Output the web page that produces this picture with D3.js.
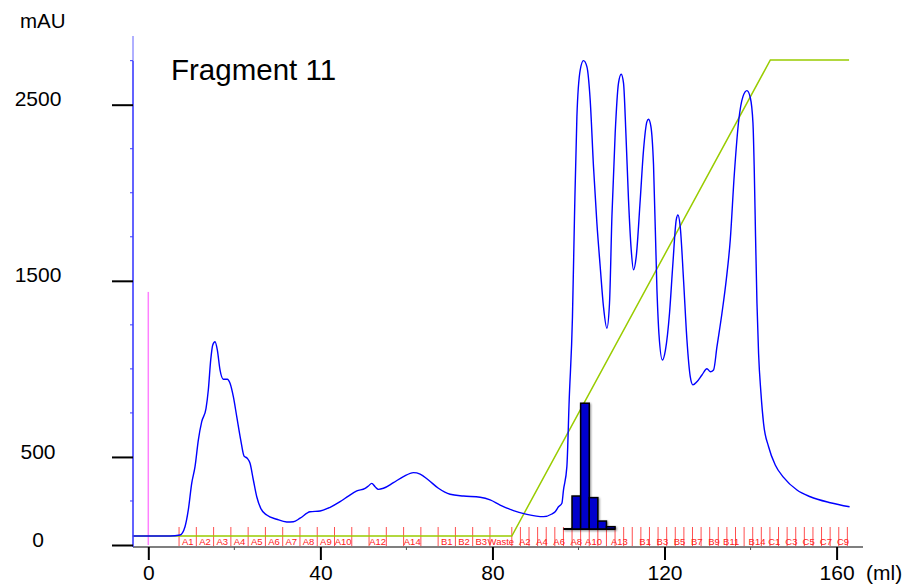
<!DOCTYPE html>
<html>
<head>
<meta charset="utf-8">
<script src="https://cdn.jsdelivr.net/npm/d3@7"></script>
<style>
  html, body { margin: 0; padding: 0; background: #fff; }
  svg { display: block; font-family: "Liberation Sans", Arial, sans-serif; }
</style>
</head>
<body>
<svg id="chart" width="903" height="585"></svg>
<script>
// ---------------- data ----------------
const title = "Fragment 11";
const yUnit = "mAU";
const xUnit = "(ml)";
const xTickValues = [0, 40, 80, 120, 160];
const xMinorTicks = [20, 60, 100, 140];
const yTickValues = [0, 500, 1500, 2500];
const yMinorTicks = [250, 750, 1000, 1250, 1750, 2000, 2250, 2750];

// UV trace: volume (ml) and absorbance (mAU)
const uvVolume = [-3.6, 5.05, 7.37, 8.53, 9.30, 10.09, 10.86, 11.63, 12.42, 13.42, 13.95, 14.51, 14.98, 15.51, 16.05, 16.67, 17.44, 18.37, 19.0, 19.77, 20.56, 21.49, 22.26, 23.02, 23.65, 24.42, 25.21, 26.14, 27.53, 29.86, 32.19, 33.72, 35.28, 37.60, 39.93, 42.26, 44.58, 46.51, 48.47, 50.40, 51.16, 51.95, 52.72, 53.49, 54.65, 56.98, 59.30, 61.63, 63.19, 65.12, 67.44, 70.16, 73.26, 77.14, 79.47, 81.79, 84.88, 88.0, 91.86, 93.81, 94.58, 95.35, 96.14, 96.51, 97.30, 97.84, 98.60, 99.07, 99.63, 100.40, 101.16, 101.95, 102.72, 103.49, 104.28, 105.05, 105.81, 106.60, 107.21, 107.77, 108.53, 109.30, 109.93, 110.47, 111.02, 111.63, 112.26, 112.79, 113.42, 114.35, 115.12, 115.91, 116.28, 116.84, 117.44, 118.24, 118.72, 119.51, 120.21, 121.16, 121.95, 122.72, 123.12, 123.65, 124.42, 125.21, 125.98, 126.60, 127.53, 128.70, 129.86, 130.63, 131.40, 132.19, 133.35, 134.35, 135.28, 136.21, 137.26, 138.23, 139.16, 139.93, 140.56, 140.86, 141.16, 141.49, 141.86, 142.42, 143.02, 144.19, 145.74, 147.67, 150.79, 153.88, 158.53, 163.02];
const uvAbsorbance = [51, 51, 57, 104, 199, 350, 445, 596, 700, 776, 880, 1051, 1136, 1154, 1107, 994, 941, 941, 918, 842, 729, 596, 505, 492, 464, 369, 274, 208, 170, 146, 131, 132, 152, 189, 193, 214, 246, 278, 307, 322, 335, 350, 331, 316, 322, 354, 388, 411, 403, 369, 322, 288, 278, 271, 256, 227, 195, 174, 161, 176, 189, 217, 237, 312, 445, 823, 1296, 1864, 2432, 2697, 2750, 2716, 2527, 2148, 1827, 1580, 1353, 1231, 1373, 1864, 2338, 2622, 2673, 2622, 2338, 1959, 1675, 1562, 1637, 1959, 2243, 2404, 2417, 2375, 2160, 1447, 1192, 1050, 1107, 1316, 1600, 1846, 1874, 1807, 1505, 1164, 956, 909, 927, 965, 1001, 984, 994, 1126, 1316, 1505, 1732, 2101, 2413, 2546, 2580, 2541, 2395, 2129, 1751, 1373, 1089, 861, 691, 558, 454, 384, 312, 274, 240, 217];

// gradient (% B)
const gradVolume = [-3.6, 84.5, 144.6, 162.9];
const gradPercent = [0, 0, 100, 100];

// injection mark
const injectVolume = 0;
const injectHeight = 1437;

// fractions, first collection (4 ml)
const frac1Start = 7.15;
const frac1Size = 4.015;
const frac1Labels = ["A1","A2","A3","A4","A5","A6","A7","A8","A9","A10","","A12","","A14","","B1","B2","B3"];
const wasteLabel = "Waste";
// fractions, second collection (2 ml)
const frac2Start = 84.5;
const frac2Size = 2.0;
const frac2Labels = ["","A2","","A4","","A6","","A8","","A10","","","A13","","","B1","","B3","","B5","","B7","","B9","","B11","","","B14","","C1","","C3","","C5","","C7","","C9"];

// fraction analysis bars (second collection, fractions A7..A12)
const barFractionIndex = [6, 7, 8, 9, 10, 11];
const barValues = [0, 187, 714, 178, 45, 13];
const barBase = 91;

// ---------------- drawing ----------------
const svg = d3.select("#chart");
const x = d3.scaleLinear().domain([0, 160]).range([148.3, 836.6]);
const y = d3.scaleLinear().domain([0, 2500]).range([545, 104.7]);
const yGrad = d3.scaleLinear().domain([0, 100]).range([536, 60]);

const defs = svg.append("defs");
const f = defs.append("filter").attr("id", "shadow").attr("x", "-30%").attr("y", "-30%").attr("width", "160%").attr("height", "160%");
f.append("feGaussianBlur").attr("in", "SourceAlpha").attr("stdDeviation", 1.2).attr("result", "b");
f.append("feOffset").attr("in", "b").attr("dx", 1).attr("dy", 1).attr("result", "o");
f.append("feComponentTransfer").attr("in", "o").attr("result", "o2")
  .append("feFuncA").attr("type", "linear").attr("slope", 0.45);
const fm = f.append("feMerge");
fm.append("feMergeNode").attr("in", "o2");
fm.append("feMergeNode").attr("in", "SourceGraphic");

// fraction ticks & labels
const fracG = svg.append("g");
const frac1Bounds = d3.range(frac1Labels.length + 1).map(i => frac1Start + i * frac1Size);
const frac2Bounds = d3.range(frac2Labels.length + 1).map(i => frac2Start + i * frac2Size);
const allBounds = frac1Bounds.concat(frac2Bounds);
fracG.selectAll("line.ft").data(allBounds).join("line")
  .attr("x1", d => x(d)).attr("x2", d => x(d))
  .attr("y1", 527).attr("y2", 546)
  .attr("stroke", "#ff3030").attr("stroke-opacity", 0.85).attr("stroke-width", 1);
const labelData = frac1Labels.map((l, i) => ({l, c: frac1Start + (i + 0.5) * frac1Size}))
  .concat([{l: wasteLabel, c: (frac1Bounds[frac1Bounds.length - 1] + frac2Start) / 2}])
  .concat(frac2Labels.map((l, i) => ({l, c: frac2Start + (i + 0.5) * frac2Size})))
  .filter(d => d.l !== "");
fracG.selectAll("text").data(labelData).join("text")
  .attr("x", d => x(d.c)).attr("y", 545)
  .attr("text-anchor", "middle")
  .attr("font-size", 9.5).attr("fill", "#ff2020")
  .text(d => d.l);

// injection line
svg.append("line")
  .attr("x1", x(injectVolume)).attr("x2", x(injectVolume))
  .attr("y1", y(injectHeight)).attr("y2", y(0))
  .attr("stroke", "#ff80ff").attr("stroke-width", 1.5);

// gradient line
const gradData = gradVolume.map((v, i) => [v, gradPercent[i]]);
svg.append("path")
  .datum(gradData)
  .attr("fill", "none").attr("stroke", "#99cc00").attr("stroke-width", 1.5)
  .attr("d", d3.line().x(d => x(d[0])).y(d => yGrad(d[1])));

// bars
const barG = svg.append("g").attr("filter", "url(#shadow)");
const bx0 = frac2Start + barFractionIndex[0] * frac2Size;
const bx1 = frac2Start + (barFractionIndex[barFractionIndex.length - 1] + 1) * frac2Size;
barG.append("line").attr("x1", x(bx0)).attr("x2", x(bx1))
  .attr("y1", y(barBase)).attr("y2", y(barBase))
  .attr("stroke", "#000").attr("stroke-width", 2);
barG.selectAll("rect").data(barFractionIndex.map((fi, i) => ({fi, v: barValues[i]})).filter(d => d.v > 0))
  .join("rect")
  .attr("x", d => x(frac2Start + d.fi * frac2Size))
  .attr("width", d => x(frac2Start + (d.fi + 1) * frac2Size) - x(frac2Start + d.fi * frac2Size))
  .attr("y", d => y(barBase + d.v))
  .attr("height", d => y(barBase) - y(barBase + d.v))
  .attr("fill", "#0000cc").attr("stroke", "#000").attr("stroke-width", 1.5);

// UV curve
const uvData = uvVolume.map((v, i) => [v, uvAbsorbance[i]]);
svg.append("path")
  .datum(uvData)
  .attr("fill", "none").attr("stroke", "#0000ff").attr("stroke-width", 1.4)
  .attr("d", d3.line().x(d => x(d[0])).y(d => y(d[1])).curve(d3.curveMonotoneX));

// x axis
svg.append("line").attr("x1", 133).attr("x2", 863).attr("y1", 547).attr("y2", 547)
  .attr("stroke", "#555").attr("stroke-width", 1.5);
const xAxis = svg.append("g").attr("transform", "translate(0,547)")
  .call(d3.axisBottom(x).tickValues(xTickValues).tickSize(13).tickFormat(d3.format("d")));
xAxis.select(".domain").remove();
xAxis.selectAll(".tick line").attr("stroke", "#000").attr("stroke-width", 2);
xAxis.selectAll(".tick text").attr("y", 33).attr("dy", 0)
  .attr("font-size", 21).attr("fill", "#000")
  .attr("font-family", "'Liberation Sans', Arial, sans-serif");
svg.append("g").selectAll("line").data(xMinorTicks).join("line")
  .attr("x1", d => x(d)).attr("x2", d => x(d)).attr("y1", 547).attr("y2", 550)
  .attr("stroke", "#555").attr("stroke-width", 1);
svg.append("text").attr("x", 866).attr("y", 580).attr("font-size", 21).text(xUnit);

// y axis
svg.append("line").attr("x1", 133).attr("x2", 133).attr("y1", 36).attr("y2", 61)
  .attr("stroke", "#6060ff").attr("stroke-width", 1);
svg.append("line").attr("x1", 133).attr("x2", 133).attr("y1", 61).attr("y2", 547)
  .attr("stroke", "#3c3cff").attr("stroke-width", 1.6);
svg.append("g").selectAll("line").data(yMinorTicks).join("line")
  .attr("x1", 130).attr("x2", 133).attr("y1", d => y(d)).attr("y2", d => y(d))
  .attr("stroke", "#3c3cff").attr("stroke-width", 1);
const yAxis = svg.append("g").attr("transform", "translate(133,0)")
  .call(d3.axisLeft(y).tickValues(yTickValues).tickSize(21).tickFormat(d3.format("d")));
yAxis.select(".domain").remove();
yAxis.selectAll(".tick line").attr("stroke", "#000").attr("stroke-width", 2);
yAxis.selectAll(".tick text").attr("x", -95).attr("dy", "0.05em")
  .attr("text-anchor", "middle")
  .attr("font-size", 21).attr("fill", "#000")
  .attr("font-family", "'Liberation Sans', Arial, sans-serif");
svg.append("text").attr("x", 20).attr("y", 28).attr("font-size", 20.5).text(yUnit);

// title
svg.append("text").attr("x", 171).attr("y", 80).attr("font-size", 29.5).text(title);
</script>
</body>
</html>
